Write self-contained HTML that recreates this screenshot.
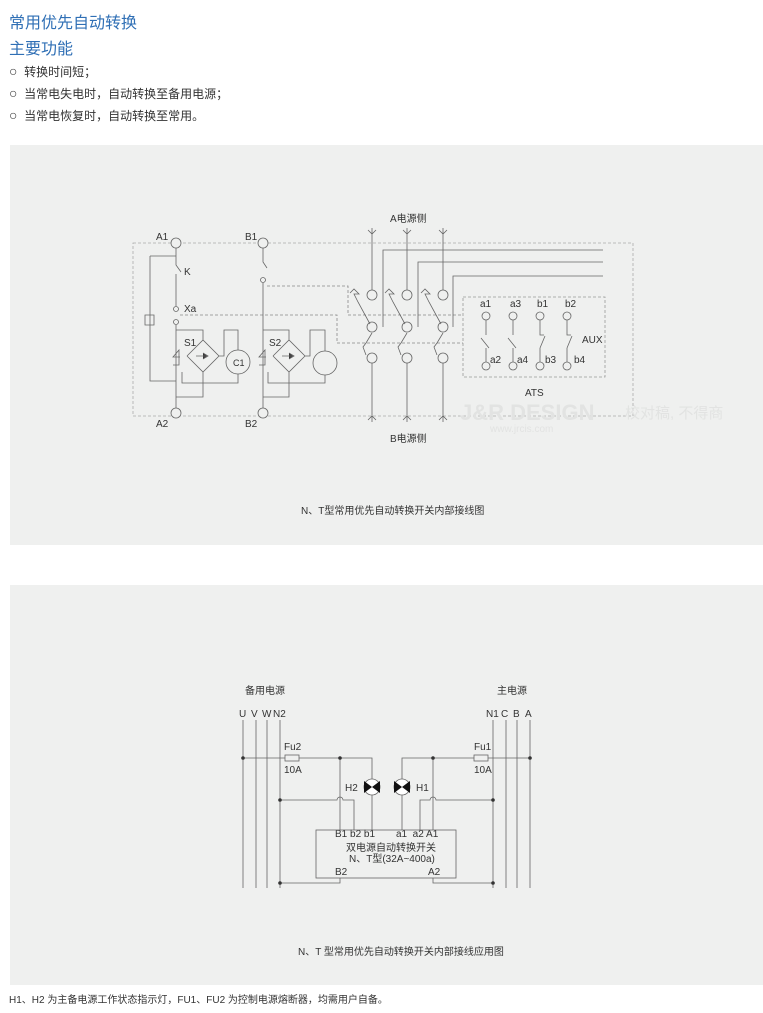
<!DOCTYPE html>
<html><head><meta charset="utf-8"><style>
body{margin:0;width:763px;height:1013px;background:#fff;font-family:"Liberation Sans","Noto Sans CJK SC",sans-serif;position:relative;overflow:hidden}
.t{position:absolute;white-space:nowrap}
</style></head><body>
<div class="t" style="left:9px;top:9px;font-size:16px;color:#2f6fb5">常用优先自动转换</div>
<div class="t" style="left:9px;top:35px;font-size:16px;color:#2f6fb5">主要功能</div>
<div class="t" style="left:9px;top:63px;font-size:12px;color:#333"><span style="font-size:14px">○</span>&nbsp; 转换时间短；</div>
<div class="t" style="left:9px;top:85px;font-size:12px;color:#333"><span style="font-size:14px">○</span>&nbsp; 当常电失电时，自动转换至备用电源；</div>
<div class="t" style="left:9px;top:107px;font-size:12px;color:#333"><span style="font-size:14px">○</span>&nbsp; 当常电恢复时，自动转换至常用。</div>
<div style="position:absolute;left:10px;top:145px;width:753px;height:400px;background:#eff0ef"></div>
<div style="position:absolute;left:10px;top:585px;width:753px;height:400px;background:#eff0ef"></div>
<div class="t" style="left:9px;top:991px;font-size:10px;color:#333">H1、H2 为主备电源工作状态指示灯，FU1、FU2 为控制电源熔断器，均需用户自备。</div>
<svg width="763" height="1013" style="position:absolute;left:0;top:0" font-family="Liberation Sans,Noto Sans CJK SC,sans-serif" font-size="9" fill="none" stroke="#666" stroke-width="0.8">
<g>
<rect x="133" y="243" width="500" height="173" stroke="#aaa" stroke-dasharray="3,2"/>
<rect x="463" y="297" width="142" height="80" stroke="#999" stroke-dasharray="3,2"/>
<text x="460" y="420" font-size="22" fill="#e2e3e2" stroke="none" font-weight="bold">J&amp;R DESIGN</text>
<text x="625" y="418" font-size="15" fill="#e2e3e2" stroke="none">校对稿, 不得商</text>
<text x="490" y="432" font-size="10" fill="#e2e3e2" stroke="none">www.jrcis.com</text>
<!-- left circuits -->
<circle cx="176" cy="243" r="5" fill="#eff0ef"/><circle cx="263" cy="243" r="5" fill="#eff0ef"/>
<circle cx="176" cy="413" r="5" fill="#eff0ef"/><circle cx="263" cy="413" r="5" fill="#eff0ef"/>
<path d="M176 248V265L181 272M176 274V306M176 325V408M150 256H176M150 256V381H176M145 315h9v10h-9z"/>
<path d="M180 315H337V343H463M267 286H348V315H463" stroke="#888" stroke-dasharray="3,2"/>
<circle cx="176" cy="309" r="2.5"/><circle cx="176" cy="322" r="2.5"/>
<path d="M263 248V262L267 268M263 283V408" />
<circle cx="263" cy="280" r="2.5"/>
<path d="M176 330H203V340M187 356L203 340L219 356L203 372L187 356M219 356H224V330H238V350M180 357H173l6-7v15h-6M182 372V383H238V374M203 372V397H176" />
<circle cx="238" cy="362" r="12"/><text x="233" y="366" fill="#333" stroke="none">C1</text>
<path d="M263 330H289V340M273 356L289 340L305 356L289 372L273 356M305 356H310V330H325V351M266 357H259l6-7v15h-6M268 372V383H325V375M289 372V397H263"/>
<circle cx="325" cy="363" r="12"/>
<path d="M196 356h12M203 353l5 3-5 3M282 356h12M289 353l5 3-5 3" fill="#333"/>
<g fill="#333" stroke="none" font-size="10">
<text x="156" y="240">A1</text><text x="245" y="240">B1</text><text x="156" y="427">A2</text><text x="245" y="427">B2</text>
<text x="184" y="275">K</text><text x="184" y="312">Xa</text><text x="184" y="346">S1</text><text x="269" y="346">S2</text>
<text x="390" y="222">A电源侧</text><text x="390" y="442">B电源侧</text><text x="525" y="396">ATS</text>
<text x="480" y="307">a1</text><text x="510" y="307">a3</text><text x="537" y="307">b1</text><text x="565" y="307">b2</text>
<text x="490" y="363">a2</text><text x="517" y="363">a4</text><text x="545" y="363">b3</text><text x="574" y="363">b4</text>
<text x="582" y="343">AUX</text>
<text x="301" y="514">N、T型常用优先自动转换开关内部接线图</text>
</g>
<!-- main switches -->
<g>
<path d="M372 228V290M368 230l4 4 4-4M372 422V363M368 420l4-4 4 4M383 327V250H603M350 293l4-4 5 5-5 0 4 8 12 22M366 355l-3 -8 3 -4 l6-10"/>
<circle cx="372" cy="295" r="5"/><circle cx="372" cy="327" r="5"/><circle cx="372" cy="358" r="5"/>
<path d="M407 228V290M403 230l4 4 4-4M407 422V363M403 420l4-4 4 4M418 327V262H603M385 293l4-4 5 5-5 0 4 8 12 22M401 355l-3 -8 3 -4 l6-10"/>
<circle cx="407" cy="295" r="5"/><circle cx="407" cy="327" r="5"/><circle cx="407" cy="358" r="5"/>
<path d="M443 228V290M439 230l4 4 4-4M443 422V363M439 420l4-4 4 4M453 327V276H603M421 293l4-4 5 5-5 0 4 8 12 22M437 355l-3 -8 3 -4 l6-10"/>
<circle cx="443" cy="295" r="5"/><circle cx="443" cy="327" r="5"/><circle cx="443" cy="358" r="5"/>
</g>
<g>
<circle cx="486" cy="316" r="4"/><circle cx="486" cy="366" r="4"/><path d="M486 320V335M481 338l8 10M486 348V362"/>
<circle cx="513" cy="316" r="4"/><circle cx="513" cy="366" r="4"/><path d="M513 320V335M508 338l8 10M513 348V362"/>
<circle cx="540" cy="316" r="4"/><circle cx="540" cy="366" r="4"/><path d="M540 320V335h4M545 336l-5 12M540 348V362"/>
<circle cx="567" cy="316" r="4"/><circle cx="567" cy="366" r="4"/><path d="M567 320V335h4M572 336l-5 12M567 348V362"/>
</g>
</g>
<!-- panel 2 -->
<g>
<g fill="#333" stroke="none" font-size="10">
<text x="245" y="694">备用电源</text><text x="497" y="694">主电源</text>
<text x="239" y="717">U</text><text x="251" y="717">V</text><text x="262" y="717">W</text><text x="273" y="717">N2</text>
<text x="486" y="717">N1</text><text x="501" y="717">C</text><text x="513" y="717">B</text><text x="525" y="717">A</text>
<text x="284" y="750">Fu2</text><text x="284" y="773">10A</text><text x="474" y="750">Fu1</text><text x="474" y="773">10A</text>
<text x="345" y="791">H2</text><text x="416" y="791">H1</text>
<text x="335" y="837">B1 b2 b1</text><text x="396" y="837">a1&nbsp; a2 A1</text>
<text x="346" y="851">双电源自动转换开关</text><text x="349" y="862">N、T型(32A~400a)</text>
<text x="335" y="875">B2</text><text x="428" y="875">A2</text>
<text x="298" y="955">N、T 型常用优先自动转换开关内部接线应用图</text>
</g>
<path d="M243 720V888M256 720V888M267 720V888M280 720V888M493 720V888M506 720V888M517 720V888M530 720V888"/>
<rect x="316" y="830" width="140" height="48"/>
<rect x="285" y="755" width="14" height="6"/><rect x="474" y="755" width="14" height="6"/>
<path d="M243 758H285M299 758H372V830M340 758V830M530 758H488M474 758H402V830M433 758V830"/>
<path d="M280 800H337a3 3 0 0 1 6 0H354V830M493 800H436a3 3 0 0 0 -6 0H420V830"/>
<path d="M340 878V883H280M433 878V883H493"/>
<circle cx="372" cy="787" r="8" fill="#fff"/><circle cx="402" cy="787" r="8" fill="#fff"/>
<path d="M364 781L372 787L364 793ZM380 781L372 787L380 793ZM394 781L402 787L394 793ZM410 781L402 787L410 793Z" fill="#111" stroke="none"/>
<g fill="#333" stroke="none"><circle cx="243" cy="758" r="1.8"/><circle cx="340" cy="758" r="1.8"/><circle cx="433" cy="758" r="1.8"/><circle cx="530" cy="758" r="1.8"/><circle cx="280" cy="800" r="1.8"/><circle cx="493" cy="800" r="1.8"/><circle cx="280" cy="883" r="1.8"/><circle cx="493" cy="883" r="1.8"/></g>
</g>
</svg>
</body></html>
